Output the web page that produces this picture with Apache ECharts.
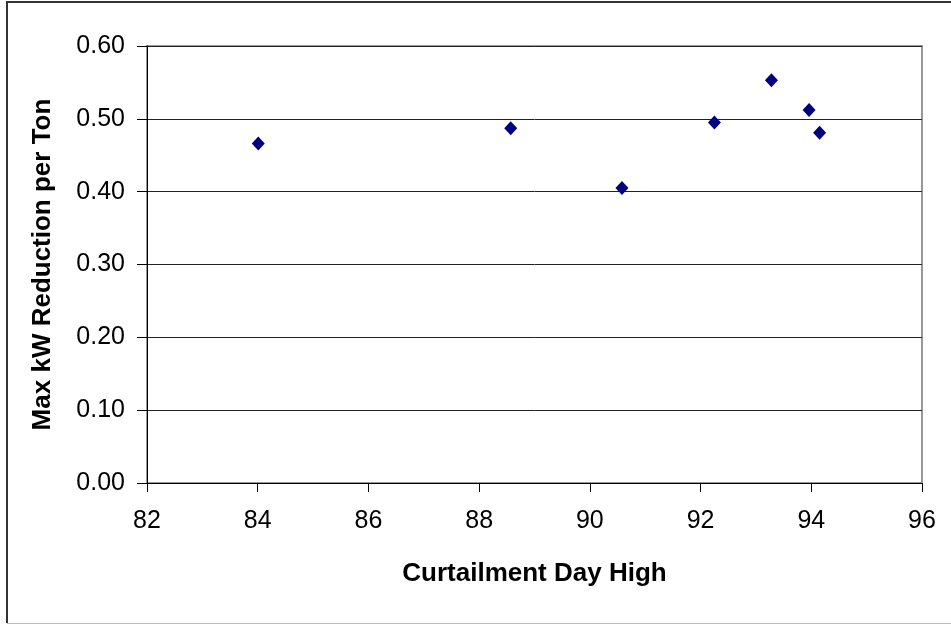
<!DOCTYPE html>
<html>
<head>
<meta charset="utf-8">
<script src="https://cdn.jsdelivr.net/npm/echarts@6/dist/echarts.min.js"></script>
<style>
html,body{margin:0;padding:0;background:#fff;}
#chart{width:951px;height:625px;}
</style>
</head>
<body>
<div id="chart"></div>
<script>
// Data
var dayHigh = [84.01, 88.57, 90.58, 92.25, 93.28, 93.96, 94.15];
var kwPerTon = [0.466, 0.487, 0.405, 0.495, 0.553, 0.512, 0.481];
var xAxisTitle = 'Curtailment Day High';
var yAxisTitle = 'Max kW Reduction per Ton';

var points = dayHigh.map(function (x, i) { return [x, kwPerTon[i]]; });

var FONT = '"Liberation Sans", Arial, sans-serif';
var chart = echarts.init(document.getElementById('chart'));
chart.setOption({
  animation: false,
  backgroundColor: '#fff',
  graphic: [
    { type: 'line', shape: { x1: 7, y1: 2, x2: 7, y2: 623 }, style: { stroke: '#333', lineWidth: 2 } },
    { type: 'line', shape: { x1: 6, y1: 2, x2: 951, y2: 2 }, style: { stroke: '#333', lineWidth: 2 } },
    { type: 'line', shape: { x1: 7, y1: 623.5, x2: 951, y2: 623.5 }, style: { stroke: '#bbb', lineWidth: 1 } }
  ],
  grid: { left: 147, top: 46, right: 29, bottom: 142, show: true, borderColor: '#999', borderWidth: 2, backgroundColor: 'transparent' },
  xAxis: {
    type: 'value', min: 82, max: 96, interval: 2,
    name: xAxisTitle, nameLocation: 'middle', nameGap: 78,
    nameTextStyle: { fontFamily: FONT, fontSize: 26, fontWeight: 'bold', color: '#000' },
    axisLine: { show: true, onZero: false, lineStyle: { color: '#000', width: 1 } },
    axisTick: { show: true, length: 9, lineStyle: { color: '#000' } },
    axisLabel: { margin: 26, fontFamily: FONT, fontSize: 25, color: '#000' },
    splitLine: { show: false }
  },
  yAxis: {
    type: 'value', min: 0, max: 0.6, interval: 0.1,
    name: yAxisTitle, nameLocation: 'middle', nameGap: 91,
    nameTextStyle: { fontFamily: FONT, fontSize: 26, fontWeight: 'bold', color: '#000' },
    axisLine: { show: true, onZero: false, lineStyle: { color: '#000', width: 1 } },
    axisTick: { show: true, length: 10, lineStyle: { color: '#000' } },
    axisLabel: { margin: 22, fontFamily: FONT, fontSize: 25, color: '#000',
      formatter: function (v) { return v.toFixed(2); } },
    splitLine: { show: true, lineStyle: { color: '#222', width: 1 } }
  },
  series: [{
    type: 'scatter',
    data: points,
    symbol: 'diamond',
    symbolSize: [13, 14],
    itemStyle: { color: '#000080', opacity: 1 }
  }]
});
</script>
</body>
</html>
